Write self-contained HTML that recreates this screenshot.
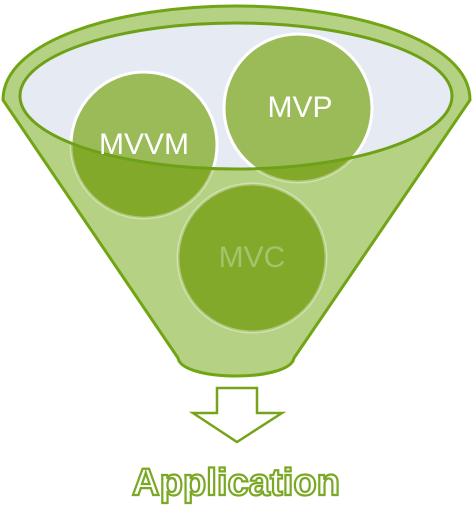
<!DOCTYPE html>
<html><head><style>html,body{margin:0;padding:0;background:#fff}svg{display:block}</style></head><body>
<svg width="473" height="507" viewBox="0 0 473 507" xmlns="http://www.w3.org/2000/svg">
<defs>
<clipPath id="el"><ellipse cx="236" cy="96" rx="216" ry="73"/></clipPath>
</defs>
<path d="M3,100 C3,40 120,6 236,6 C352,6 470,40 470,100 L294,358 C290,382 182,382 178,358 Z" fill="#b5d184" stroke="#72a515" stroke-width="3"/>
<ellipse cx="236" cy="96" rx="216" ry="73" fill="#e6eaf2"/>
<g stroke="#ffffff" stroke-opacity="0.35" stroke-width="3" fill="#83a92b">
<circle cx="144" cy="145" r="73"/>
<circle cx="298" cy="108" r="74"/>
<circle cx="252" cy="258" r="74"/>
</g>
<g clip-path="url(#el)" fill="#9bbb59" stroke="#ffffff" stroke-width="3">
<circle cx="144" cy="145" r="73"/>
<circle cx="298" cy="108" r="74"/>
</g>
<ellipse cx="236" cy="96" rx="216" ry="73" fill="none" stroke="#6ea018" stroke-width="3"/>
<g font-family="Liberation Sans, sans-serif" font-size="30" text-anchor="middle">
<text x="144" y="154" fill="#ffffff">MVVM</text>
<text x="300" y="117" fill="#ffffff">MVP</text>
<text x="252" y="267" fill="#a4c36a">MVC</text>
</g>
<polygon points="217,388 257,388 257,413 282,413 237,442 193,413 217,413" fill="#fff" stroke="#77a31b" stroke-width="2.5"/>
<text x="236" y="495" font-family="Liberation Sans, sans-serif" font-size="38" font-weight="bold" text-anchor="middle" textLength="208" lengthAdjust="spacingAndGlyphs" fill="#ffffff" stroke="#7aa824" stroke-width="2.2">Application</text>
</svg>
</body></html>
